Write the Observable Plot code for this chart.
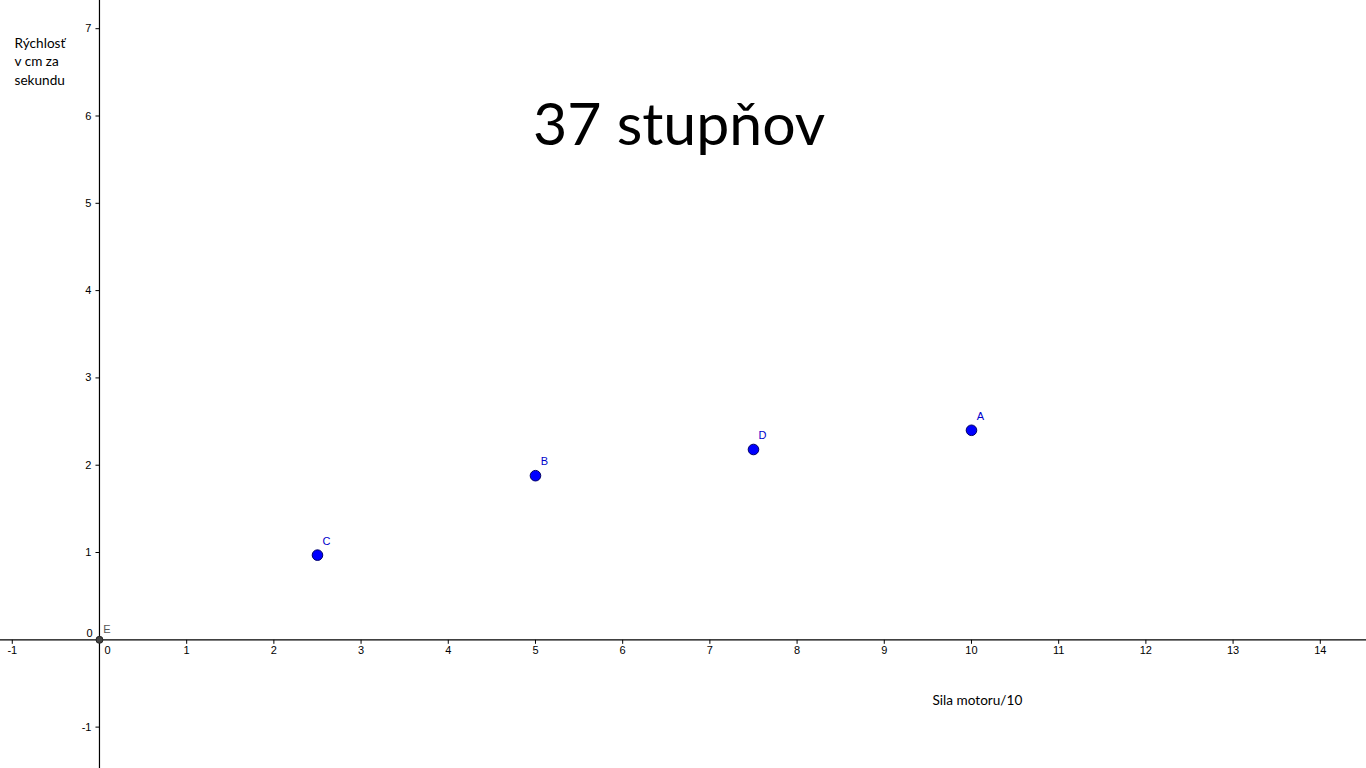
<!DOCTYPE html>
<html>
<head>
<meta charset="utf-8">
<script src="https://cdn.jsdelivr.net/npm/d3@7"></script>
<script src="https://cdn.jsdelivr.net/npm/@observablehq/plot@0.6"></script>
<style>
  html, body { margin: 0; padding: 0; background: #fff; overflow: hidden; }
  #chart svg { display: block; }
</style>
</head>
<body>
<div id="chart"></div>
<script>
// ---- data ----
const titleText = "37 stupňov";
const xLabel = "Sila motoru/10";
const yLabel = "Rýchlosť\nv cm za\nsekundu";

const pointNames = ["A", "B", "C", "D"];
const motorForce = [10, 5, 2.5, 7.5];
const speedValues = [2.40, 1.88, 0.97, 2.18];

const originName = "E";
const originX = [0];
const originY = [0];

const xTicks = [-1, 1, 2, 3, 4, 5, 6, 7, 8, 9, 10, 11, 12, 13, 14];
const yTicks = [-1, 1, 2, 3, 4, 5, 6, 7];
const zeroTick = [0];

// ---- build tables ----
const points = pointNames.map((n, i) => ({name: n, x: motorForce[i], y: speedValues[i]}));
const origin = originX.map((x, i) => ({name: originName, x, y: originY[i]}));

const tickDown = {draw(ctx) { ctx.moveTo(0, 0); ctx.lineTo(0, 4); }};
const tickLeft = {draw(ctx) { ctx.moveTo(0, 0); ctx.lineTo(-4, 0); }};

const tickFont = "'Liberation Sans', Arial, sans-serif";
const textFont = "Lato, 'Open Sans', sans-serif";

const chart = Plot.plot({
  width: 1366,
  height: 768,
  margin: 0,
  x: {domain: [-1.135, 14.53], axis: null},
  y: {domain: [-1.474, 7.323], axis: null},
  style: {background: "white", overflow: "visible"},
  marks: [
    Plot.ruleX(zeroTick, {stroke: "black", strokeWidth: 1.2}),
    Plot.ruleY(zeroTick, {stroke: "black", strokeWidth: 1.2}),
    Plot.dot(xTicks, {x: d => d, y: () => 0, symbol: tickDown, fill: "none", stroke: "black", strokeWidth: 1}),
    Plot.dot(yTicks, {x: () => 0, y: d => d, symbol: tickLeft, fill: "none", stroke: "black", strokeWidth: 1}),
    Plot.text(xTicks, {x: d => d, y: () => 0, text: d => String(d), dy: 10.5, fontSize: 11, fontFamily: tickFont, fill: "black"}),
    Plot.text(yTicks, {x: () => 0, y: d => d, text: d => String(d), dx: -8, textAnchor: "end", fontSize: 11, fontFamily: tickFont, fill: "black"}),
    Plot.text(zeroTick, {x: d => d, y: () => 0, text: d => String(d), dx: 8, dy: 10.5, fontSize: 11, fontFamily: tickFont, fill: "black"}),
    Plot.text(zeroTick, {x: () => 0, y: d => d, text: d => String(d), dx: -10, dy: -6, fontSize: 11, fontFamily: tickFont, fill: "black"}),
    Plot.dot(origin, {x: "x", y: "y", r: 3.5, fill: "#444", stroke: "#222", strokeWidth: 1}),
    Plot.text(origin, {x: "x", y: "y", text: "name", dx: 7.5, dy: -10, fontSize: 11, fontFamily: tickFont, fill: "#555"}),
    Plot.dot(points, {x: "x", y: "y", r: 5.3, fill: "#0000ff", stroke: "#000066", strokeWidth: 1}),
    Plot.text(points, {x: "x", y: "y", text: "name", dx: 9, dy: -14, fontSize: 11, fontFamily: tickFont, fill: "#0000cc"}),
    Plot.text([titleText], {frameAnchor: "top-left", text: d => d, dx: 678.7, dy: 144, lineAnchor: "bottom", textAnchor: "middle", fontSize: 59, fontFamily: textFont, fill: "black"}),
    Plot.text([xLabel], {frameAnchor: "top-left", text: d => d, dx: 932, dy: 695, lineAnchor: "top", textAnchor: "start", fontSize: 13.6, fontFamily: textFont, fill: "black"}),
    Plot.text([yLabel], {frameAnchor: "top-left", text: d => d, dx: 14, dy: 35, lineAnchor: "top", lineHeight: 1.33, textAnchor: "start", fontSize: 13.6, fontFamily: textFont, fill: "black"})
  ]
});

document.getElementById("chart").appendChild(chart);
</script>
</body>
</html>
